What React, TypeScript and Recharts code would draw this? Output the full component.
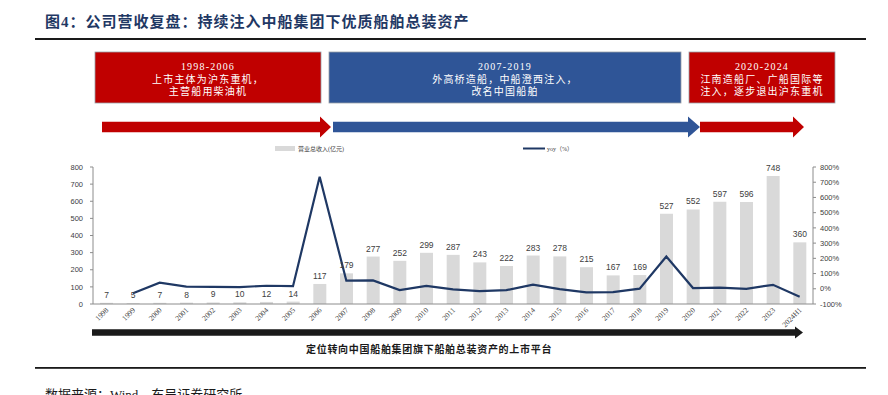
import React from 'react';
import { ComposedChart, Bar, Line, XAxis, YAxis, LabelList } from 'recharts';

const W = 888;
const H = 395;

const years = ['1998', '1999', '2000', '2001', '2002', '2003', '2004', '2005', '2006', '2007', '2008', '2009', '2010', '2011', '2012', '2013', '2014', '2015', '2016', '2017', '2018', '2019', '2020', '2021', '2022', '2023', '2024H1'];
const revenue = [7, 5, 7, 8, 9, 10, 12, 14, 117, 179, 277, 252, 299, 287, 243, 222, 283, 278, 215, 167, 169, 527, 552, 597, 596, 748, 360];
const yoy: (number | null)[] = [null, -29, 40, 14, 13, 11, 20, 17, 736, 53, 55, -9, 19, -4, -15, -9, 27, -2, -23, -22, 1, 212, 5, 8, 0, 26, -52];
const leftTicks = [0, 100, 200, 300, 400, 500, 600, 700, 800];
const rightTicks = [-100, 0, 100, 200, 300, 400, 500, 600, 700, 800];

const title = '图4：公司营收复盘：持续注入中船集团下优质船舶总装资产';
const phase1 = ['1998-2006', '上市主体为沪东重机，', '主营船用柴油机'];
const phase2 = ['2007-2019', '外高桥造船，中船澄西注入，', '改名中国船舶'];
const phase3 = ['2020-2024', '江南造船厂、广船国际等', '注入，逐步退出沪东重机'];
const bottomText = '定位转向中国船舶集团旗下船舶总装资产的上市平台';
const sourceText = '数据来源：Wind，东吴证券研究所';
const legendBar = '营业总收入(亿元)';
const legendLine = 'yoy（%）';

const RED = '#c00000';
const BLUE = '#2f5597';
const NAVY = '#1f3864';
const CJK = '"Liberation Serif", "Noto Sans CJK SC", serif';
const SANS = '"Liberation Sans", Arial, sans-serif';

const data = years.map((y, i) => ({ year: y, revenue: revenue[i], yoy: yoy[i] }));

const XTick = (props: any) => {
  const { x, y, payload } = props;
  return (
    <g transform={`translate(${x + 1},${y + 5})`}>
      <text transform="rotate(-45)" textAnchor="end" fontSize={7.5} fill="#404040" fontFamily={CJK} dy="0.3em">
        {payload.value}
      </text>
    </g>
  );
};

const Box = ({ x, y, w, h, fill, lines }: { x: number; y: number; w: number; h: number; fill: string; lines: string[] }) => (
  <g>
    <rect x={x} y={y} width={w} height={h} fill={fill} stroke="#9aa0a8" strokeWidth={0.8} />
    {lines.map((t, i) => (
      <text key={i} x={x + w / 2} y={y + 18 + i * 12.5} textAnchor="middle" fill="#fff" fontSize={10} letterSpacing={1.2} fontFamily={CJK}>
        {t}
      </text>
    ))}
  </g>
);

const Arrow = ({ x1, x2, headStart, yc, body, head, fill }: { x1: number; x2: number; headStart: number; yc: number; body: number; head: number; fill: string }) => (
  <polygon
    fill={fill}
    points={`${x1},${yc - body / 2} ${headStart},${yc - body / 2} ${headStart},${yc - head / 2} ${x2},${yc} ${headStart},${yc + head / 2} ${headStart},${yc + body / 2} ${x1},${yc + body / 2}`}
  />
);

export default function App() {
  return (
    <div style={{ position: 'absolute', left: 0, top: 0, width: W, height: H, background: '#fff', overflow: 'hidden' }}>
      <svg style={{ position: 'absolute', left: 0, top: 0 }} width={W} height={H}>
        <text x={45} y={27} fill={NAVY} fontSize={15} fontWeight="bold" letterSpacing={1} fontFamily={CJK}>
          {title}
        </text>
        <rect x={35} y={38} width={831} height={2} fill="#1a1a1a" />

        <Box x={95} y={52} w={226} h={51} fill={RED} lines={phase1} />
        <Box x={329} y={52} w={352} h={51} fill={BLUE} lines={phase2} />
        <Box x={689} y={52} w={146} h={51} fill={RED} lines={phase3} />

        <Arrow x1={102} x2={331} headStart={320} yc={127} body={10.5} head={21} fill={RED} />
        <Arrow x1={333} x2={700} headStart={688} yc={127} body={10.5} head={21} fill={BLUE} />
        <Arrow x1={700} x2={804} headStart={793} yc={127} body={10.5} head={21} fill={RED} />

        <rect x={275} y={146} width={20} height={5} fill="#d9d9d9" />
        <text x={298} y={151} fontSize={6} fill="#404040" fontFamily={CJK}>{legendBar}</text>
        <line x1={523} y1={148.5} x2={545} y2={148.5} stroke={NAVY} strokeWidth={2} />
        <text x={547} y={151} fontSize={6} fill="#404040" fontFamily={CJK}>{legendLine}</text>

        <Arrow x1={92} x2={803} headStart={795} yc={332.5} body={6.5} head={12} fill="#1a1a1a" />
        <text x={306} y={353} fontSize={10} fontWeight="bold" letterSpacing={0.7} fill="#1a1a1a" fontFamily={CJK}>
          {bottomText}
        </text>
        <rect x={35} y={367} width={831} height={1.8} fill="#1a1a1a" />
        <text x={45} y={399} fontSize={13} fill="#1a1a1a" fontFamily={CJK}>{sourceText}</text>
      </svg>
      <div style={{ position: 'absolute', left: 0, top: 0 }}>
        <ComposedChart width={W} height={H} data={data} margin={{ top: 167, right: 35, bottom: 61, left: 63 }}>
          <XAxis dataKey="year" interval={0} height={30} tick={<XTick />} tickLine={false} tickSize={0} tickMargin={0} axisLine={{ stroke: '#8c8c8c' }} />
          <YAxis
            yAxisId="l"
            domain={[0, 800]}
            ticks={leftTicks}
            width={30}
            tickSize={3}
            tickMargin={7}
            axisLine={{ stroke: '#8c8c8c' }}
            tickLine={{ stroke: '#8c8c8c' }}
            tick={{ fontSize: 7.5, fill: '#404040', fontFamily: SANS }}
          />
          <YAxis
            yAxisId="r"
            orientation="right"
            domain={[-100, 800]}
            ticks={rightTicks}
            width={40}
            tickSize={3}
            tickMargin={4}
            tickFormatter={(v: number) => `${v}%`}
            axisLine={{ stroke: '#8c8c8c' }}
            tickLine={{ stroke: '#8c8c8c' }}
            tick={{ fontSize: 7.5, fill: '#404040', fontFamily: SANS }}
          />
          <Bar yAxisId="l" dataKey="revenue" fill="#d9d9d9" barSize={13} isAnimationActive={false}>
            <LabelList dataKey="revenue" position="top" offset={5} style={{ fontSize: 8.5, fill: '#404040', fontFamily: SANS }} />
          </Bar>
          <Line yAxisId="r" dataKey="yoy" stroke={NAVY} strokeWidth={2.2} dot={false} activeDot={false} isAnimationActive={false} />
        </ComposedChart>
      </div>
    </div>
  );
}
